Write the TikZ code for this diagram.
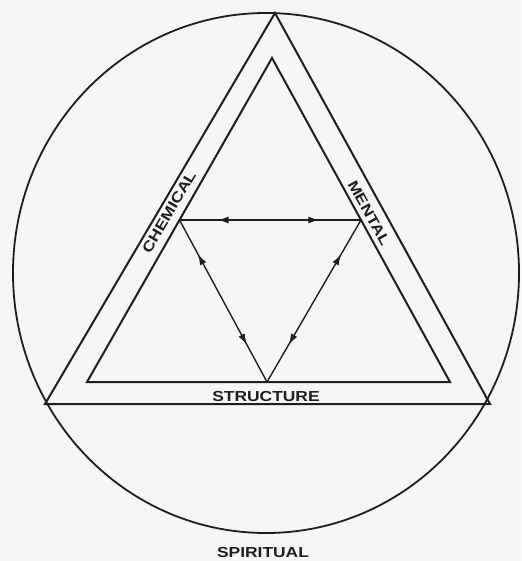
\documentclass[tikz,border=0pt]{standalone}
\usepackage{graphicx}
\usepackage{fontspec}
\setmainfont{Liberation Sans}
\usetikzlibrary{arrows.meta,decorations.markings,calc}
\definecolor{ink}{HTML}{1E1E1E}
\definecolor{paper}{HTML}{F6F6F6}
\tikzset{
  frame/.style={draw=ink, line width=2pt, line join=miter},
  ring/.style={draw=ink, line width=1.8pt},
  flow/.style={draw=ink, line width=1.4pt,
    postaction={decorate},
    decoration={markings,
      mark=at position 0.27 with {\arrow{Latex[reversed,length=11pt,width=7pt]}},
      mark=at position 0.77 with {\arrow{Latex[length=11pt,width=7pt]}}}},
  label/.style={inner sep=0pt, text=ink, font=\fontsize{14.5}{17}\selectfont\bfseries},
}
\newcommand{\wide}[1]{\scalebox{1.2}[1]{#1}}
\begin{document}
\begin{tikzpicture}[x=1pt,y=-1pt]
  \fill[paper] (0,0) rectangle (521,561);
  \useasboundingbox (0,0) rectangle (521,561);
  % outer circle
  \draw[ring] (266,273) ellipse [x radius=253, y radius=260];
  % outer triangle
  \coordinate (OA) at (275,13);
  \coordinate (OB) at (45,404);
  \coordinate (OC) at (490,404);
  \draw[frame] (OA) -- (OB) -- (OC) -- cycle;
  % inner triangle
  \coordinate (IA) at (272,58);
  \coordinate (IB) at (87,382);
  \coordinate (IC) at (450,382);
  \draw[frame] (IA) -- (IB) -- (IC) -- cycle;
  % midpoints
  \coordinate (ML) at ($(IA)!0.5!(IB)$);
  \coordinate (MR) at ($(IA)!0.5!(IC)$);
  \coordinate (MB) at (267,382);
  \draw[flow] (ML) -- (MR);
  \draw[flow] (ML) -- (MB);
  \draw[flow] (MR) -- (MB);
  % labels
  \node[label, rotate=59.5] (chem) at (169,212) {\wide{CHEMICAL}};
  \node[label, rotate=-61] (ment) at (369,213) {\wide{MENTAL}};
  \node[label] (struct) at (266,397) {\wide{STRUCTURE}};
  \node[label] (spir) at (263,553) {\wide{SPIRITUAL}};
\end{tikzpicture}
\end{document}
